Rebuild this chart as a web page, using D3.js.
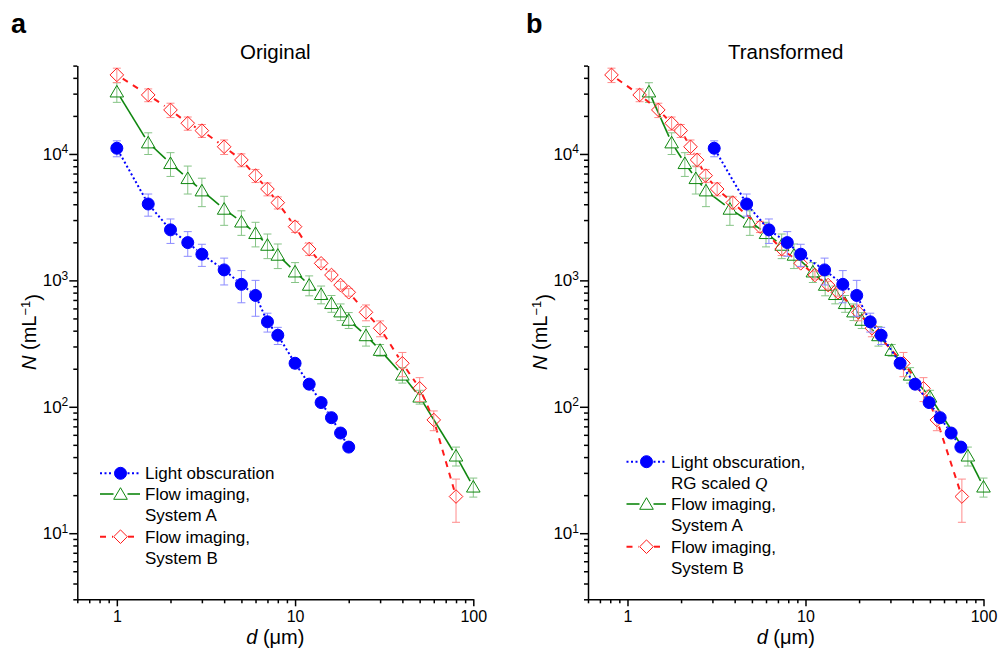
<!DOCTYPE html>
<html>
<head>
<meta charset="utf-8">
<script src="https://cdn.jsdelivr.net/npm/d3@7"></script>
<style>
  body { margin: 0; background: #fff; }
  text { font-family: Arial, "Liberation Sans", sans-serif; fill: #000; }
</style>
</head>
<body>
<script>
// Light obscuration
const loD   = [1, 1.5, 2, 2.5, 3, 4, 5, 6, 7, 8, 10, 12, 14, 16, 18, 20];
const loDrg = [3.07, 4.67, 6.23, 7.9, 9.4, 12.8, 16.2, 19.4, 23.1, 26.6, 34.0, 41.3, 49.5, 57.1, 65.8, 74.6];
const loN   = [11100, 4020, 2510, 1990, 1610, 1210, 930, 760, 470, 368, 221, 151, 108, 82, 62, 48];
const loErr = [1600, 800, 550, 440, 320, 290, 265, 240, 80, 57, 20, 12, 8, 6, 4, 3];

// Flow imaging, System A
const faD   = [1, 1.5, 2, 2.5, 3, 4, 5, 6, 7, 8, 10, 12, 14, 16, 18, 20, 25, 30, 40, 50, 80, 100];
const faDt  = [1.32, 1.77, 2.10, 2.42, 2.76, 3.76, 4.87, 6.0, 7.35, 8.61, 11.0, 12.9, 14.7, 16.7, 18.6, 20.7, 25.7, 30.5, 38.7, 50.1, 81.7, 100];
const faN   = [31100, 12300, 8440, 6420, 5130, 3675, 2910, 2360, 1906, 1590, 1172, 920, 777, 659, 566, 486, 367, 281, 179, 120, 41, 23.3];
const faErr = [5500, 2400, 1800, 1600, 1300, 950, 640, 520, 420, 350, 210, 165, 125, 100, 85, 70, 65, 30, 25, 15, 7, 4];

// Flow imaging, System B
const fbD   = [1, 1.5, 2, 2.5, 3, 4, 5, 6, 7, 8, 10, 12, 14, 16, 18, 20, 25, 30, 40, 50, 60, 80];
const fbDt  = [0.813, 1.17, 1.49, 1.77, 1.99, 2.26, 2.46, 2.75, 3.19, 3.9, 5.55, 7.35, 9.4, 11.3, 13.4, 15.2, 19.8, 23.6, 35.5, 46, 54.7, 75.6];
const fbN   = [42200, 29300, 22300, 17500, 15300, 11400, 8970, 6740, 5280, 4120, 2660, 1772, 1364, 1103, 918, 805, 559, 418, 221, 140, 78.7, 19.5];
const fbErr = [5500, 3400, 2900, 2100, 1800, 1500, 1050, 800, 620, 450, 270, 200, 90, 80, 65, 55, 80, 60, 48, 30, 14, 7.3];

// axis ticks
const xDomain = [0.6, 100];
const yDomain = [3, 50000];
const xMajor = [1, 10, 100];
const xMinor = [0.6, 0.7, 0.8, 0.9, 2, 3, 4, 5, 6, 7, 8, 9, 20, 30, 40, 50, 60, 70, 80, 90];
const yMajor = [10, 100, 1000, 10000];
const yMinor = [3, 4, 5, 6, 7, 8, 9, 20, 30, 40, 50, 60, 70, 80, 90, 200, 300, 400, 500, 600, 700, 800, 900,
                2000, 3000, 4000, 5000, 6000, 7000, 8000, 9000, 20000, 30000, 40000, 50000];

const width = 998, height = 657;
const plotTop = 65.6, plotBottom = 599.3;

const svg = d3.select("body").append("svg")
    .attr("width", width)
    .attr("height", height);

const markers = {
    circle: "M6,0A6,6 0 1,1 -6,0A6,6 0 1,1 6,0Z",
    triangle: "M0,-6.3L6.8,5.3L-6.8,5.3Z",
    diamond: "M0,-6.8L6.8,0L0,6.8L-6.8,0Z"
};

function drawMarker(sel, s) {
    sel.attr("d", markers[s.marker])
        .attr("fill", s.fill)
        .attr("stroke", s.color)
        .attr("stroke-width", 1);
}

function drawPanel(p) {
    const x = d3.scaleLog().domain(xDomain).range([p.left, p.right]);
    const y = d3.scaleLog().domain(yDomain).range([plotBottom, plotTop]);
    const g = svg.append("g");

    // bottom axis
    const gx = g.append("g").attr("transform", `translate(0,${plotBottom})`);
    gx.append("g")
        .call(d3.axisBottom(x).tickValues(xMinor).tickSize(4).tickFormat(""))
        .call(s => s.select(".domain").remove());
    const gxMajor = gx.append("g")
        .call(d3.axisBottom(x).tickValues(xMajor).tickSize(7).tickSizeOuter(0).tickPadding(4).tickFormat(d3.format("d")));
    gxMajor.selectAll("text").attr("font-size", 16).attr("font-family", "Arial, 'Liberation Sans', sans-serif");

    // left axis
    const gy = g.append("g").attr("transform", `translate(${p.left},0)`);
    gy.append("g")
        .call(d3.axisLeft(y).tickValues(yMinor).tickSize(4).tickFormat(""))
        .call(s => s.select(".domain").remove());
    const gyMajor = gy.append("g")
        .call(d3.axisLeft(y).tickValues(yMajor).tickSize(8).tickSizeOuter(0).tickPadding(1));
    gyMajor.selectAll(".tick text")
        .attr("font-size", 17)
        .attr("font-family", "Arial, 'Liberation Sans', sans-serif")
        .text(null)
        .each(function(d) {
            const t = d3.select(this);
            t.append("tspan").text("10");
            t.append("tspan").attr("dy", "-0.55em").attr("font-size", 12).text(Math.round(Math.log10(d)));
        });

    g.selectAll(".domain, .tick line").attr("stroke", "#000").attr("stroke-width", 1.5);

    // titles
    const cx = (p.left + p.right) / 2;
    g.append("text").attr("x", cx).attr("y", 59).attr("text-anchor", "middle")
        .attr("font-size", 20.5).text(p.title);
    g.append("text").attr("x", p.letterX).attr("y", 33)
        .attr("font-size", 27).attr("font-weight", "bold").text(p.letter);

    const xt = g.append("text").attr("x", cx).attr("y", 644).attr("text-anchor", "middle").attr("font-size", 20);
    xt.append("tspan").attr("font-style", "italic").text("d");
    xt.append("tspan").text(" (μm)");

    const yt = g.append("text").attr("transform", `translate(${p.left - 41},332) rotate(-90)`)
        .attr("text-anchor", "middle").attr("font-size", 20);
    yt.append("tspan").attr("font-style", "italic").text("N");
    yt.append("tspan").text(" (mL");
    yt.append("tspan").attr("dy", "-0.5em").attr("font-size", 13).text("−1");
    yt.append("tspan").attr("dy", "0.5em").text(")");

    // data series
    p.series.forEach(s => {
        const pts = s.xs.map((d, i) => [x(d), y(s.ys[i])]);
        const sg = g.append("g");

        // line, gapped around markers
        const segs = d3.pairs(pts).map(([a, b]) => {
            const dx = b[0] - a[0], dy = b[1] - a[1];
            const len = Math.hypot(dx, dy);
            if (len <= 2 * s.gap) return null;
            const ux = dx / len, uy = dy / len;
            return [a[0] + ux * s.gap, a[1] + uy * s.gap, b[0] - ux * s.gap, b[1] - uy * s.gap];
        }).filter(d => d);
        sg.selectAll("line.seg").data(segs).join("line")
            .attr("class", "seg")
            .attr("x1", d => d[0]).attr("y1", d => d[1])
            .attr("x2", d => d[2]).attr("y2", d => d[3])
            .attr("stroke", s.color)
            .attr("stroke-width", s.lineWidth)
            .attr("stroke-dasharray", s.dash);

        // error bars
        sg.selectAll("path.err").data(d3.range(s.xs.length)).join("path")
            .attr("class", "err")
            .attr("d", i => {
                const px = x(s.xs[i]);
                const top = y(s.ys[i] + s.err[i]);
                const bot = y(Math.max(s.ys[i] - s.err[i], yDomain[0]));
                return `M${px - 4},${top}H${px + 4}M${px},${top}V${bot}M${px - 4},${bot}H${px + 4}`;
            })
            .attr("fill", "none")
            .attr("stroke", s.errColor)
            .attr("stroke-width", 1);

        // markers
        sg.selectAll("path.mk").data(pts).join("path")
            .attr("class", "mk")
            .attr("transform", d => `translate(${d[0]},${d[1]})`)
            .call(drawMarker, s);
    });

    // legend
    const lg = g.append("g");
    p.legend.forEach(row => {
        const s = p.series.find(d => d.key === row.key);
        const l = lg.append("g");
        [[p.legX0, p.legMk - s.gap - 0.5], [p.legMk + s.gap + 0.5, p.legX1]].forEach(([a, b]) => {
            l.append("line").attr("x1", a).attr("x2", b).attr("y1", row.y).attr("y2", row.y)
                .attr("stroke", s.color).attr("stroke-width", s.lineWidth).attr("stroke-dasharray", s.dash);
        });
        l.append("path").attr("transform", `translate(${p.legMk},${row.y})`).call(drawMarker, s);
        row.lines.forEach((txt, i) => {
            const t = l.append("text").attr("x", p.legText).attr("y", row.y + i * 21 + 6).attr("font-size", 17);
            if (txt.endsWith(" Q")) {
                t.append("tspan").text(txt.slice(0, -1));
                t.append("tspan").attr("font-family", "'Liberation Serif', 'Times New Roman', serif")
                    .attr("font-style", "italic").text("Q");
            } else {
                t.text(txt);
            }
        });
    });
}

function seriesFor(loX, faX, fbX) {
    return [
        { key: "fa", xs: faX, ys: faN, err: faErr, color: "#0f870f", errColor: "#86c486", fill: "none",
          marker: "triangle", dash: null, lineWidth: 1.6, gap: 6.5 },
        { key: "fb", xs: fbX, ys: fbN, err: fbErr, color: "#ff1a1a", errColor: "#ff8c8c", fill: "none",
          marker: "diamond", dash: "6,6", lineWidth: 2, gap: 7 },
        { key: "lo", xs: loX, ys: loN, err: loErr, color: "#0000ff", errColor: "#8c8cff", fill: "#0000ff",
          marker: "circle", dash: "2,2.5", lineWidth: 2, gap: 6.5 }
    ];
}

drawPanel({
    letter: "a", letterX: 11, title: "Original", left: 77.3, right: 473.3,
    series: seriesFor(loD, faD, fbD),
    legX0: 100, legMk: 120.5, legX1: 140, legText: 145,
    legend: [
        { key: "lo", y: 473.3, lines: ["Light obscuration"] },
        { key: "fa", y: 494, lines: ["Flow imaging,", "System A"] },
        { key: "fb", y: 536.7, lines: ["Flow imaging,", "System B"] }
    ]
});

drawPanel({
    letter: "b", letterX: 526, title: "Transformed", left: 588, right: 983.5,
    series: seriesFor(loDrg, faDt, fbDt),
    legX0: 626.5, legMk: 646.5, legX1: 666, legText: 671,
    legend: [
        { key: "lo", y: 461.7, lines: ["Light obscuration,", "RG scaled Q"] },
        { key: "fa", y: 504, lines: ["Flow imaging,", "System A"] },
        { key: "fb", y: 546.7, lines: ["Flow imaging,", "System B"] }
    ]
});
</script>
</body>
</html>
